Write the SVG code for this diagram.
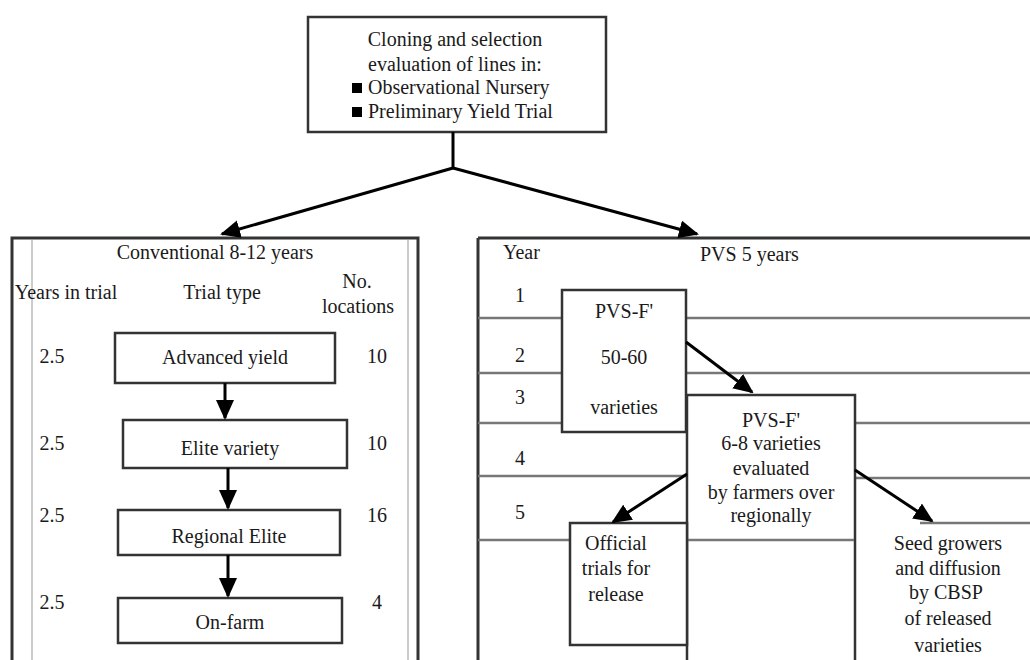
<svg xmlns="http://www.w3.org/2000/svg" width="1030" height="660" viewBox="0 0 1030 660">
<defs>
<marker id="ah" markerUnits="userSpaceOnUse" markerWidth="20" markerHeight="18" refX="18" refY="9" orient="auto">
<path d="M0,0 L20,9 L0,18 Z" fill="#000"/>
</marker>
<style>
text{font-family:"Liberation Serif","Times New Roman",serif;font-size:20px;fill:#1a1a1a}
.c{text-anchor:middle}
.box{fill:#fff;stroke:#333;stroke-width:2.5}
.frame{fill:none;stroke:#333;stroke-width:3}
.row{stroke:#777;stroke-width:2.5}
.faint{stroke:#ccc;stroke-width:2}
.arr{stroke:#000;stroke-width:3;fill:none;marker-end:url(#ah)}
.ln{stroke:#000;stroke-width:3;fill:none}
</style>
</defs>
<rect width="1030" height="660" fill="#fff"/>

<g id="panel-conventional">
<rect class="frame" x="12" y="238" width="406" height="440"/>
<line class="faint" x1="32" y1="240" x2="32" y2="660"/>
<line class="faint" x1="408" y1="240" x2="408" y2="660"/>
<text class="c" x="215" y="259">Conventional 8-12 years</text>
<text class="c" x="66" y="299">Years in trial</text>
<text class="c" x="222" y="299">Trial type</text>
<text class="c" x="357" y="288">No.</text>
<text class="c" x="358" y="313">locations</text>
<text class="c" x="52" y="363">2.5</text>
<text class="c" x="52" y="450">2.5</text>
<text class="c" x="52" y="522">2.5</text>
<text class="c" x="52" y="609">2.5</text>
<text class="c" x="377" y="363">10</text>
<text class="c" x="377" y="450">10</text>
<text class="c" x="377" y="522">16</text>
<text class="c" x="377" y="609">4</text>
</g>

<g id="panel-pvs">
<line class="frame" x1="478" y1="238" x2="478" y2="660"/>
<line class="frame" x1="478" y1="238" x2="1030" y2="238"/>
<text x="503" y="259">Year</text>
<text x="700" y="261">PVS 5 years</text>
<text class="c" x="520" y="302">1</text>
<text class="c" x="520" y="362">2</text>
<text class="c" x="520" y="404">3</text>
<text class="c" x="520" y="465">4</text>
<text class="c" x="520" y="519">5</text>
<line class="row" x1="478" y1="318" x2="562" y2="318"/>
<line class="row" x1="686" y1="318" x2="1030" y2="318"/>
<line class="row" x1="478" y1="373" x2="562" y2="373"/>
<line class="row" x1="686" y1="373" x2="1030" y2="373"/>
<line class="row" x1="478" y1="423" x2="562" y2="423"/>
<line class="row" x1="855" y1="423" x2="1030" y2="423"/>
<line class="row" x1="478" y1="476" x2="687" y2="476"/>
<line class="row" x1="855" y1="478" x2="1030" y2="478"/>
<line class="row" x1="478" y1="540" x2="570" y2="540"/>
<line class="row" x1="920" y1="523" x2="1030" y2="523"/>
</g>

<g id="top-node">
<rect class="box" x="308" y="17" width="298" height="115"/>
<text class="c" x="455" y="46">Cloning and selection</text>
<text class="c" x="455" y="71">evaluation of lines in:</text>
<rect x="352" y="83" width="10" height="10" fill="#000"/>
<text x="368" y="94">Observational Nursery</text>
<rect x="352" y="107" width="10" height="10" fill="#000"/>
<text x="368" y="118">Preliminary Yield Trial</text>
</g>

<g id="advanced-yield">
<rect class="box" x="115" y="333" width="220" height="50"/>
<text class="c" x="225" y="364">Advanced yield</text>
</g>
<g id="elite-variety">
<rect class="box" x="123" y="420" width="224" height="48"/>
<text class="c" x="230" y="455">Elite variety</text>
</g>
<g id="regional-elite">
<rect class="box" x="118" y="510" width="222" height="45"/>
<text class="c" x="229" y="543">Regional Elite</text>
</g>
<g id="on-farm">
<rect class="box" x="118" y="598" width="224" height="45"/>
<text class="c" x="230" y="629">On-farm</text>
</g>

<g id="pvs-f-1">
<rect class="box" x="562" y="290" width="124" height="142"/>
<text class="c" x="624" y="318">PVS-F'</text>
<text class="c" x="624" y="364">50-60</text>
<text class="c" x="624" y="414">varieties</text>
</g>
<g id="pvs-f-2">
<rect class="box" x="687" y="395" width="168" height="275"/>
<line class="row" x1="688" y1="540" x2="854" y2="540"/>
<text class="c" x="771" y="427">PVS-F'</text>
<text class="c" x="771" y="450">6-8 varieties</text>
<text class="c" x="771" y="475">evaluated</text>
<text class="c" x="771" y="499">by farmers over</text>
<text class="c" x="771" y="522">regionally</text>
</g>
<g id="official-trials">
<rect class="box" x="570" y="523" width="117" height="122"/>
<text class="c" x="616" y="550">Official</text>
<text class="c" x="616" y="575">trials for</text>
<text class="c" x="616" y="601">release</text>
</g>
<g id="seed-diffusion">
<text class="c" x="948" y="550">Seed growers</text>
<text class="c" x="948" y="575">and diffusion</text>
<text class="c" x="946" y="599">by CBSP</text>
<text class="c" x="948" y="625">of released</text>
<text class="c" x="948" y="652">varieties</text>
</g>

<g id="connectors">
<line class="ln" x1="453" y1="132" x2="453" y2="168"/>
<line class="arr" x1="453" y1="168" x2="222" y2="234"/>
<line class="arr" x1="453" y1="168" x2="697" y2="234"/>
<line class="arr" x1="225" y1="383" x2="225" y2="418"/>
<line class="arr" x1="228" y1="468" x2="228" y2="508"/>
<line class="arr" x1="228" y1="555" x2="228" y2="596"/>
<line class="arr" x1="686" y1="342" x2="752" y2="392"/>
<line class="arr" x1="687" y1="474" x2="613" y2="522"/>
<line class="arr" x1="855" y1="470" x2="932" y2="521"/>
</g>
</svg>
